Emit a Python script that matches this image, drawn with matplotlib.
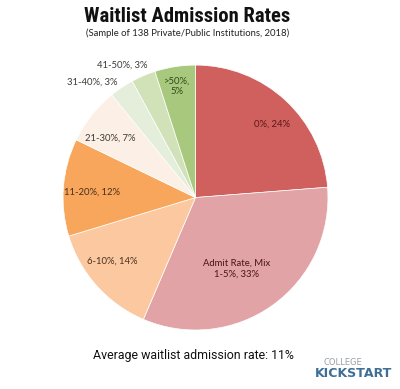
import matplotlib.pyplot as plt

# slice data, clockwise from 12 o'clock
labels = ['0%, 24%', 'Admit Rate, Mix\n1-5%, 33%', '6-10%, 14%', '11-20%, 12%',
          '21-30%, 7%', '31-40%, 3%', '41-50%, 3%', '>50%,\n5%']
shares = [24, 33, 14, 12, 7, 3, 3, 5]
colors = ['#cf605d', '#e1a3a5', '#fbc8a0', '#f7a65b',
          '#fcefe6', '#e5eddb', '#d1e2b9', '#a8c97d']
text_colors = ['#5a1818', '#4a1515', '#4a3020', '#4a3020',
               '#3f3a35', '#3f3a35', '#3f3a35', '#2f4a18']
# label spots in pie units (radius = 1)
label_xy = [(0.58, 0.55), (0.31, -0.54), (-0.63, -0.48), (-0.78, 0.04),
            (-0.645, 0.45), (-0.78, 0.87), (-0.55, 1.0), (-0.14, 0.84)]

fig = plt.figure(figsize=(4, 3.89), dpi=100)
ax = fig.add_axes([0.1575, 0.1517, 0.6625, 0.681])
ax.pie(shares, colors=colors, startangle=90, counterclock=False,
       wedgeprops=dict(edgecolor='white', linewidth=0.5))
ax.set_xlim(-1, 1)
ax.set_ylim(-1, 1)

for lab, (x, y), c in zip(labels, label_xy, text_colors):
    ax.text(x, y, lab, ha='center', va='center', fontsize=6.8,
            family='Lato', color=c, linespacing=1.3)

fig.text(0.469, 0.943, 'Waitlist Admission Rates', ha='center', va='baseline',
         fontsize=14.9, family=['Roboto Condensed', 'Liberation Sans Narrow', 'Roboto'],
         weight='black', color='#111111')
fig.text(0.468, 0.915, '(Sample of 138 Private/Public Institutions, 2018)',
         ha='center', va='center', fontsize=6.8, family='Lato', color='#222222')
fig.text(0.4825, 0.087, 'Average waitlist admission rate: 11%', ha='center',
         va='center', fontsize=8.9, family='Roboto', color='#111111')

# logo
fig.text(0.857, 0.067, 'COLLEGE', ha='center', va='center', fontsize=6,
         family='DejaVu Sans', color='#9aa0a6')
fig.text(0.884, 0.041, 'KICKSTART', ha='center', va='center', fontsize=9.1,
         family='DejaVu Sans', weight='bold', color='#3f6e96')

fig.savefig('out.png', dpi=100)
